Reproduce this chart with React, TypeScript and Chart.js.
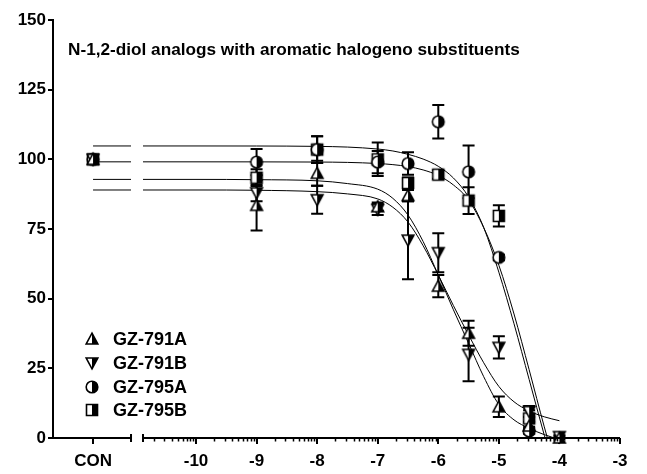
import React, { useEffect, useRef } from 'react';
import { Chart, registerables } from 'chart.js';
Chart.register(...registerables);

// ---------- data ----------
const CON_X = -11.7; // position of the "CON" category on the broken x axis
const GAP_LEFT = -11.073; // end of the CON segment of the x axis
const GAP_RIGHT = -10.875; // start of the log segment of the x axis
const xTickValues = [CON_X, -10, -9, -8, -7, -6, -5, -4, -3];
const xTickLabels = ['CON', '-10', '-9', '-8', '-7', '-6', '-5', '-4', '-3'];
const yTickValues = [0, 25, 50, 75, 100, 125, 150];

const titleText = 'N-1,2-diol analogs with aromatic halogeno substituents';
const seriesNames = ['GZ-791A', 'GZ-791B', 'GZ-795A', 'GZ-795B'];
const seriesSymbols = ['triUp', 'triDown', 'circle', 'square'];

const doseX = [CON_X, -9, -8, -7, -6.5, -6, -5.5, -5, -4.5, -4];
const gz791A = [100, 83.5, 95, 83, 87, 54.5, 37.6, 11.2, 4.3, 0];
const gz791AErr = [0, 9, 4.5, 1.5, 2, 4, 4.5, 3.7, 1.5, 0.5];
const gz791B = [100, 88, 85.5, 82, 71, 66.5, 30, 32.5, 9.5, 0.5];
const gz791BErr = [0, 3, 5, 2, 14, 7, 9.6, 4, 2, 0.5];
const gz795A = [100, 99, 103.5, 99, 98.5, 113.5, 95.5, 64.8, 2.5, null];
const gz795AErr = [0, 4.7, 4.8, 4, 4, 6, 9.5, 1, 1, 0];
const gz795B = [100, 93.4, 103.5, 100, 91.5, 94.5, 85.2, 79.7, 7, null];
const gz795BErr = [0, 3, 4.8, 6, 2, 1.5, 4.8, 3.8, 3, 0];

// fitted curves
const curveX = [CON_X, GAP_LEFT, -10.97, GAP_RIGHT, -10, -9, -8, -7.5, -7, -6.75, -6.5, -6.25, -6, -5.75, -5.5, -5.25, -5, -4.75, -4.5, -4.25, -4];
const fit791A = [92.8, 92.8, null, 92.8, 92.8, 92.7, 92.3, 91.3, 89.3, 86, 80, 70.5, 58.5, 46, 34, 22, 12, 6.5, 3.5, 1.2, -0.5];
const fit791B = [89, 89, null, 89, 89, 88.9, 88.4, 87.6, 85.8, 82.8, 77.5, 69, 58.5, 47.5, 37, 27, 18.5, 13, 9.7, 7.6, 6.2];
const fit795A = [104.8, 104.8, null, 104.8, 104.8, 104.78, 104.65, 104.4, 103.7, 103.0, 101.8, 100.1, 97.5, 93.3, 86.5, 75.5, 59.5, 41, 21, 1, -18];
const fit795B = [99.1, 99.1, null, 99.1, 99.1, 99.09, 99.03, 98.9, 98.5, 98.1, 97.4, 96.2, 94.2, 90.8, 85.4, 75.5, 62, 44.5, 24.5, 4, -15];

const seriesValues = [gz791A, gz791B, gz795A, gz795B];
const seriesErrors = [gz791AErr, gz791BErr, gz795AErr, gz795BErr];
const seriesFits = [fit791A, fit791B, fit795A, fit795B];

// ---------- helpers ----------
const FONT = 'Arial, "Liberation Sans", Helvetica, sans-serif';

function makeSymbol(kind: string): HTMLCanvasElement {
  const W = 16;
  const cv = document.createElement('canvas');
  cv.width = W;
  cv.height = W;
  const g = cv.getContext('2d')!;
  const c = W / 2;
  const r = 5.8;
  g.lineWidth = 1.6;
  g.strokeStyle = '#000';
  g.lineJoin = 'miter';
  const path = () => {
    g.beginPath();
    if (kind === 'circle') g.arc(c, c, r, 0, Math.PI * 2);
    else if (kind === 'square') g.rect(c - r + 0.3, c - r + 0.3, 2 * r - 0.6, 2 * r - 0.6);
    else if (kind === 'triUp') { g.moveTo(c, c - r); g.lineTo(c + r, c + r * 0.85); g.lineTo(c - r, c + r * 0.85); g.closePath(); }
    else { g.moveTo(c, c + r); g.lineTo(c + r, c - r * 0.85); g.lineTo(c - r, c - r * 0.85); g.closePath(); }
  };
  path();
  g.fillStyle = '#fff';
  g.fill();
  g.save();
  path();
  g.clip();
  g.fillStyle = '#000';
  g.fillRect(c, 0, W, W);
  g.restore();
  path();
  g.stroke();
  return cv;
}

export default function App() {
  const ref = useRef<HTMLCanvasElement | null>(null);

  useEffect(() => {
    const canvas = ref.current!;
    const symbols = seriesSymbols.map(makeSymbol);

    const datasets: any[] = [];
    seriesFits.forEach((fit, i) => {
      datasets.push({
        label: seriesNames[i] + ' fit',
        data: curveX.map((x, j) => ({ x, y: fit[j] })),
        showLine: true,
        pointRadius: 0,
        borderColor: '#000',
        borderWidth: 1,
        cubicInterpolationMode: 'monotone',
        spanGaps: false,
        order: 2,
      });
    });
    seriesValues.forEach((vals, i) => {
      datasets.push({
        label: seriesNames[i],
        data: doseX.map((x, j) => ({ x, y: vals[j] })),
        showLine: false,
        pointStyle: symbols[i],
        pointRadius: 7,
        clip: false,
        order: 1,
        errIndex: i,
      });
    });

    const decor = {
      id: 'decor',
      beforeDatasetsDraw(chart: any) {
        const ctx = chart.ctx;
        const ys = chart.scales.y;
        ctx.save();
        ctx.strokeStyle = '#000';
        ctx.lineWidth = 2;
        chart.data.datasets.forEach((ds: any, di: number) => {
          if (ds.errIndex === undefined) return;
          const errs = seriesErrors[ds.errIndex];
          const vals = seriesValues[ds.errIndex];
          const meta = chart.getDatasetMeta(di);
          meta.data.forEach((el: any, j: number) => {
            const v = vals[j];
            const e = errs[j];
            if (v === null || !e) return;
            const x = el.x;
            const yt = ys.getPixelForValue(v + e);
            const yb = ys.getPixelForValue(v - e);
            ctx.beginPath();
            ctx.moveTo(x, yt);
            ctx.lineTo(x, yb);
            ctx.moveTo(x - 6, yt);
            ctx.lineTo(x + 6, yt);
            ctx.moveTo(x - 6, yb);
            ctx.lineTo(x + 6, yb);
            ctx.stroke();
          });
        });
        ctx.restore();
      },
      afterDraw(chart: any) {
        const ctx = chart.ctx;
        const xs = chart.scales.x;
        const area = chart.chartArea;
        const b = area.bottom;
        ctx.save();
        ctx.strokeStyle = '#000';
        // x axis segments
        const gl = xs.getPixelForValue(GAP_LEFT);
        const gr = xs.getPixelForValue(GAP_RIGHT);
        ctx.lineWidth = 2;
        ctx.beginPath();
        ctx.moveTo(area.left - 1, b);
        ctx.lineTo(gl, b);
        ctx.moveTo(gr, b);
        ctx.lineTo(area.right, b);
        ctx.stroke();
        // break marks
        ctx.beginPath();
        ctx.moveTo(gl, b - 4);
        ctx.lineTo(gl, b + 4);
        ctx.moveTo(gr, b - 4);
        ctx.lineTo(gr, b + 4);
        ctx.stroke();
        // minor log ticks
        ctx.lineWidth = 1.5;
        ctx.beginPath();
        for (let d = -11; d <= -4; d++) {
          for (let k = 2; k <= 9; k++) {
            const v = d + Math.log10(k);
            if (v <= GAP_RIGHT || v >= -3) continue;
            const px = Math.round(xs.getPixelForValue(v)) + 0.5;
            ctx.moveTo(px, b);
            ctx.lineTo(px, b + 3.5);
          }
        }
        ctx.stroke();
        // title
        ctx.fillStyle = '#000';
        ctx.font = `bold 17.2px ${FONT}`;
        ctx.textBaseline = 'alphabetic';
        ctx.textAlign = 'left';
        ctx.fillText(titleText, 68, 55);
        // legend
        ctx.font = `bold 18px ${FONT}`;
        ctx.textBaseline = 'middle';
        const rows = [339, 363, 387, 410];
        seriesNames.forEach((name, i) => {
          const s = symbols[i];
          ctx.drawImage(s, 92 - s.width / 2, rows[i] - s.height / 2);
          ctx.fillText(name, 113, rows[i] + 1);
        });
        ctx.restore();
      },
    };

    const chart = new Chart(canvas, {
      type: 'scatter',
      data: { datasets },
      plugins: [decor],
      options: {
        animation: false,
        responsive: false,
        devicePixelRatio: 1,
        layout: { padding: { top: 20, right: 27, left: 0, bottom: 0 } },
        plugins: { legend: { display: false }, tooltip: { enabled: false } },
        scales: {
          x: {
            type: 'linear',
            min: -12.361,
            max: -3,
            afterBuildTicks: (scale: any) => {
              scale.ticks = xTickValues.map((v) => ({ value: v }));
            },
            afterFit: (scale: any) => {
              scale.height = 36;
            },
            border: { display: false },
            grid: { display: true, drawOnChartArea: false, drawTicks: true, tickLength: 6, color: '#000', lineWidth: 2 },
            ticks: {
              autoSkip: false,
              maxRotation: 0,
              padding: 7,
              color: '#000',
              font: { family: FONT, size: 17, weight: 'bold' },
              callback: (v: any) => {
                const idx = xTickValues.indexOf(Number(v));
                return idx >= 0 ? xTickLabels[idx] : '';
              },
            },
          },
          y: {
            type: 'linear',
            min: 0,
            max: 150,
            afterBuildTicks: (scale: any) => {
              scale.ticks = yTickValues.map((v) => ({ value: v }));
            },
            afterFit: (scale: any) => {
              scale.width = 53;
            },
            border: { display: true, color: '#000', width: 2 },
            grid: { display: true, drawOnChartArea: false, drawTicks: true, tickLength: 5, color: '#000', lineWidth: 2 },
            ticks: {
              padding: 2,
              color: '#000',
              font: { family: FONT, size: 17, weight: 'bold' },
            },
          },
        },
      } as any,
    });
    return () => chart.destroy();
  }, []);

  return (
    <div style={{ position: 'fixed', left: 0, top: 0, width: 647, height: 474, background: '#fff' }}>
      <canvas ref={ref} width={647} height={474} style={{ width: 647, height: 474, display: 'block' }} />
    </div>
  );
}
